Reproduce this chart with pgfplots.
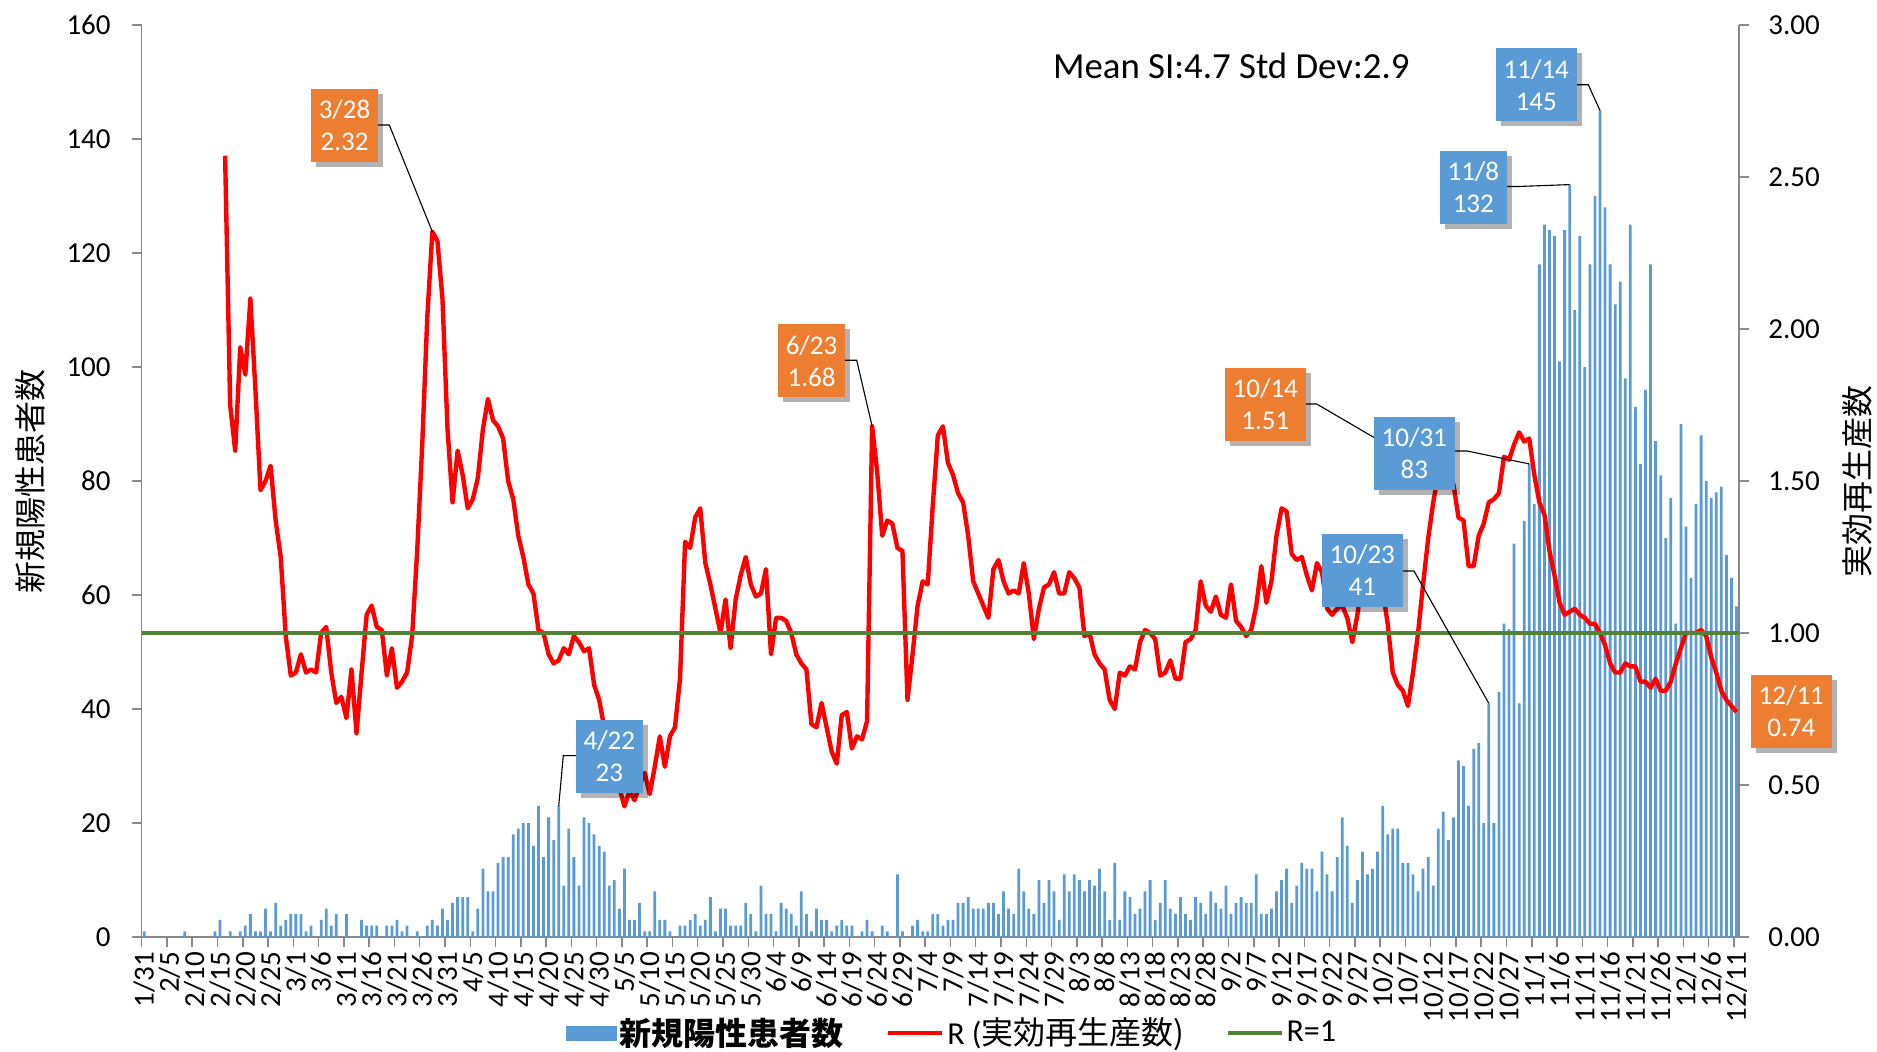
\documentclass[border=0pt]{standalone}
\usepackage{pgfplots}
\pgfplotsset{compat=1.18}
\usepackage{fontspec}
\setmainfont{Carlito}
\newfontfamily\cjk{Noto Sans CJK JP}
\usetikzlibrary{shadows}
\definecolor{barblue}{HTML}{5B9BD5}
\definecolor{boxorange}{HTML}{ED7D31}
\definecolor{rgreen}{HTML}{548235}
\definecolor{axisgrey}{HTML}{898989}
\begin{document}
\begin{tikzpicture}
\path[use as bounding box] (0,0) rectangle (938.5pt,525.5pt);
\pgfplotsset{
  common/.style={
    at={(70.85pt,57pt)}, anchor=south west, scale only axis,
    width=798.65pt, height=456pt, xmin=-0.5, xmax=315.5, ymin=0,
    axis line style={axisgrey, line width=0.75pt},
    major tick style={axisgrey, line width=0.75pt},
    tick align=outside, major tick length=5pt,
    /pgf/number format/assume math mode=true,
    tick label style={font=\fontsize{14.5pt}{17pt}\selectfont, inner sep=0pt},
  }
}
\begin{axis}[common, ymax=160,
  axis x line*=bottom, axis y line*=left,
  ytick={0,20,...,160},
  yticklabel style={anchor=east},
  yticklabel shift=10.35pt,
  xtick={-0.5,4.5,...,314.5}, xticklabels={},
  extra x ticks={0,5,...,315},
  extra x tick labels={1/31,2/5,2/10,2/15,2/20,2/25,3/1,3/6,3/11,3/16,3/21,3/26,3/31,4/5,4/10,4/15,4/20,4/25,4/30,5/5,5/10,5/15,5/20,5/25,5/30,6/4,6/9,6/14,6/19,6/24,6/29,7/4,7/9,7/14,7/19,7/24,7/29,8/3,8/8,8/13,8/18,8/23,8/28,9/2,9/7,9/12,9/17,9/22,9/27,10/2,10/7,10/12,10/17,10/22,10/27,11/1,11/6,11/11,11/16,11/21,11/26,12/1,12/6,12/11},
  extra x tick style={major tick length=0pt},
  xticklabel style={rotate=90, anchor=east},
  xticklabel shift=7.35pt,
  every axis y label/.style={at={(axis description cs:-0.0699,0.5)}, anchor=center, rotate=90, font=\fontsize{16pt}{19pt}\selectfont},
  ylabel={\cjk 新規陽性患者数},
]
\addplot[ybar, bar width=0.55, fill=barblue, draw=none] coordinates {
(0,1)(1,0)(2,0)(3,0)(4,0)(5,0)(6,0)(7,0)(8,1)(9,0)
(10,0)(11,0)(12,0)(13,0)(14,1)(15,3)(16,0)(17,1)(18,0)(19,1)
(20,2)(21,4)(22,1)(23,1)(24,5)(25,1)(26,6)(27,2)(28,3)(29,4)
(30,4)(31,4)(32,1)(33,2)(34,0)(35,3)(36,5)(37,2)(38,4)(39,0)
(40,4)(41,0)(42,0)(43,3)(44,2)(45,2)(46,2)(47,0)(48,2)(49,2)
(50,3)(51,1)(52,2)(53,0)(54,1)(55,0)(56,2)(57,3)(58,2)(59,5)
(60,3)(61,6)(62,7)(63,7)(64,7)(65,1)(66,5)(67,12)(68,8)(69,8)
(70,13)(71,14)(72,14)(73,18)(74,19)(75,20)(76,20)(77,16)(78,23)(79,14)
(80,21)(81,17)(82,23)(83,9)(84,19)(85,14)(86,9)(87,21)(88,20)(89,18)
(90,16)(91,15)(92,9)(93,10)(94,5)(95,12)(96,3)(97,3)(98,6)(99,1)
(100,1)(101,8)(102,3)(103,3)(104,1)(105,0)(106,2)(107,2)(108,3)(109,4)
(110,2)(111,3)(112,7)(113,1)(114,5)(115,5)(116,2)(117,2)(118,2)(119,6)
(120,4)(121,1)(122,9)(123,4)(124,4)(125,1)(126,6)(127,5)(128,4)(129,2)
(130,8)(131,4)(132,1)(133,5)(134,3)(135,3)(136,1)(137,2)(138,3)(139,2)
(140,2)(141,0)(142,1)(143,3)(144,1)(145,0)(146,2)(147,1)(148,0)(149,11)
(150,1)(151,0)(152,2)(153,3)(154,1)(155,1)(156,4)(157,4)(158,2)(159,3)
(160,3)(161,6)(162,6)(163,7)(164,5)(165,5)(166,5)(167,6)(168,6)(169,4)
(170,8)(171,5)(172,4)(173,12)(174,8)(175,5)(176,4)(177,10)(178,6)(179,10)
(180,8)(181,3)(182,11)(183,8)(184,11)(185,10)(186,8)(187,10)(188,9)(189,12)
(190,8)(191,3)(192,13)(193,3)(194,8)(195,7)(196,4)(197,5)(198,8)(199,10)
(200,3)(201,6)(202,10)(203,5)(204,4)(205,7)(206,4)(207,3)(208,7)(209,6)
(210,4)(211,8)(212,6)(213,5)(214,9)(215,4)(216,6)(217,7)(218,6)(219,6)
(220,11)(221,4)(222,4)(223,5)(224,8)(225,10)(226,12)(227,6)(228,9)(229,13)
(230,12)(231,12)(232,8)(233,15)(234,11)(235,8)(236,14)(237,21)(238,16)(239,6)
(240,10)(241,15)(242,11)(243,12)(244,15)(245,23)(246,18)(247,19)(248,19)(249,13)
(250,13)(251,11)(252,8)(253,12)(254,14)(255,9)(256,19)(257,22)(258,17)(259,21)
(260,31)(261,30)(262,23)(263,33)(264,34)(265,20)(266,41)(267,20)(268,43)(269,55)
(270,54)(271,69)(272,41)(273,73)(274,83)(275,76)(276,118)(277,125)(278,124)(279,123)
(280,101)(281,124)(282,132)(283,110)(284,123)(285,100)(286,118)(287,130)(288,145)(289,128)
(290,118)(291,111)(292,115)(293,98)(294,125)(295,93)(296,83)(297,96)(298,118)(299,87)
(300,81)(301,70)(302,77)(303,55)(304,90)(305,72)(306,63)(307,76)(308,88)(309,80)
(310,77)(311,78)(312,79)(313,67)(314,63)(315,58)
};
\coordinate (b422) at (axis cs:82,23);
\coordinate (b1023) at (axis cs:266,41);
\coordinate (b1031) at (axis cs:274,83);
\coordinate (b1108) at (axis cs:282,132);
\coordinate (b1114) at (axis cs:288,145);
\end{axis}
\begin{axis}[common, ymax=3,
  axis y line*=right, axis x line=none,
  ytick={0,0.5,1,1.5,2,2.5,3},
  yticklabel style={anchor=west, /pgf/number format/.cd, fixed, fixed zerofill, precision=2},
  yticklabel shift=9.5pt,
  every axis y label/.style={at={(axis description cs:1.0742,0.5)}, anchor=center, rotate=90, font=\fontsize{16pt}{19pt}\selectfont},
  ylabel={\cjk 実効再生産数},
  legend style={at={(axis description cs:0.5075,-0.10526)}, anchor=center, draw=none, fill=none,
    font=\fontsize{16pt}{19pt}\selectfont, /tikz/every even column/.append style={column sep=19.5pt},
    nodes={inner sep=1.5pt}},
  legend columns=-1,
  legend image code/.code={\draw[#1] (0pt,0pt) -- (27pt,0pt);},
]
\addlegendimage{legend image code/.code={\fill[barblue] (0pt,-3.5pt) rectangle (25.25pt,3.5pt);}}
\addlegendentry{\cjk\bfseries 新規陽性患者数}
\addplot[red, line width=2.2pt, line join=round] coordinates {
(16,2.57)(17,1.75)(18,1.60)(19,1.94)(20,1.85)(21,2.10)(22,1.80)(23,1.47)(24,1.50)(25,1.55)
(26,1.37)(27,1.25)(28,0.99)(29,0.86)(30,0.87)(31,0.93)(32,0.87)(33,0.88)(34,0.87)(35,1.00)
(36,1.02)(37,0.87)(38,0.77)(39,0.79)(40,0.72)(41,0.88)(42,0.67)(43,0.87)(44,1.06)(45,1.09)
(46,1.02)(47,1.01)(48,0.86)(49,0.95)(50,0.82)(51,0.84)(52,0.87)(53,0.99)(54,1.27)(55,1.62)
(56,2.04)(57,2.32)(58,2.29)(59,2.10)(60,1.67)(61,1.43)(62,1.60)(63,1.52)(64,1.41)(65,1.44)
(66,1.51)(67,1.67)(68,1.77)(69,1.70)(70,1.68)(71,1.64)(72,1.50)(73,1.44)(74,1.32)(75,1.25)
(76,1.16)(77,1.13)(78,1.01)(79,1.00)(80,0.93)(81,0.90)(82,0.91)(83,0.95)(84,0.93)(85,0.99)
(86,0.97)(87,0.94)(88,0.95)(89,0.83)(90,0.78)(91,0.69)(92,0.58)(93,0.51)(94,0.49)(95,0.43)
(96,0.48)(97,0.45)(98,0.50)(99,0.54)(100,0.47)(101,0.56)(102,0.66)(103,0.56)(104,0.66)(105,0.69)
(106,0.85)(107,1.30)(108,1.28)(109,1.38)(110,1.41)(111,1.23)(112,1.16)(113,1.08)(114,1.00)(115,1.11)
(116,0.95)(117,1.11)(118,1.19)(119,1.25)(120,1.16)(121,1.12)(122,1.13)(123,1.21)(124,0.93)(125,1.05)
(126,1.05)(127,1.04)(128,1.00)(129,0.93)(130,0.90)(131,0.88)(132,0.70)(133,0.69)(134,0.77)(135,0.69)
(136,0.61)(137,0.57)(138,0.73)(139,0.74)(140,0.62)(141,0.66)(142,0.65)(143,0.71)(144,1.68)(145,1.53)
(146,1.32)(147,1.37)(148,1.36)(149,1.28)(150,1.27)(151,0.78)(152,0.93)(153,1.09)(154,1.17)(155,1.16)
(156,1.42)(157,1.65)(158,1.68)(159,1.56)(160,1.52)(161,1.46)(162,1.43)(163,1.32)(164,1.17)(165,1.13)
(166,1.09)(167,1.05)(168,1.21)(169,1.24)(170,1.17)(171,1.13)(172,1.14)(173,1.13)(174,1.23)(175,1.13)
(176,0.98)(177,1.08)(178,1.15)(179,1.16)(180,1.20)(181,1.13)(182,1.13)(183,1.20)(184,1.18)(185,1.15)
(186,0.99)(187,1.00)(188,0.93)(189,0.90)(190,0.88)(191,0.78)(192,0.75)(193,0.87)(194,0.86)(195,0.89)
(196,0.88)(197,0.97)(198,1.01)(199,1.00)(200,0.98)(201,0.86)(202,0.87)(203,0.91)(204,0.85)(205,0.85)
(206,0.97)(207,0.98)(208,1.01)(209,1.17)(210,1.09)(211,1.07)(212,1.12)(213,1.06)(214,1.05)(215,1.16)
(216,1.04)(217,1.02)(218,0.99)(219,1.01)(220,1.09)(221,1.22)(222,1.10)(223,1.17)(224,1.32)(225,1.41)
(226,1.40)(227,1.26)(228,1.24)(229,1.25)(230,1.19)(231,1.14)(232,1.23)(233,1.20)(234,1.08)(235,1.06)
(236,1.08)(237,1.09)(238,1.05)(239,0.97)(240,1.06)(241,1.18)(242,1.26)(243,1.28)(244,1.24)(245,1.14)
(246,1.03)(247,0.87)(248,0.83)(249,0.81)(250,0.76)(251,0.87)(252,1.00)(253,1.16)(254,1.31)(255,1.43)
(256,1.52)(257,1.51)(258,1.50)(259,1.49)(260,1.38)(261,1.37)(262,1.22)(263,1.22)(264,1.32)(265,1.36)
(266,1.43)(267,1.44)(268,1.46)(269,1.58)(270,1.57)(271,1.62)(272,1.66)(273,1.63)(274,1.64)(275,1.52)
(276,1.43)(277,1.39)(278,1.27)(279,1.19)(280,1.10)(281,1.06)(282,1.07)(283,1.08)(284,1.06)(285,1.05)
(286,1.03)(287,1.03)(288,1.00)(289,0.96)(290,0.90)(291,0.87)(292,0.87)(293,0.90)(294,0.89)(295,0.89)
(296,0.84)(297,0.84)(298,0.82)(299,0.85)(300,0.81)(301,0.81)(302,0.84)(303,0.90)(304,0.95)(305,1.00)
(306,1.00)(307,1.00)(308,1.01)(309,0.99)(310,0.92)(311,0.87)(312,0.81)(313,0.78)(314,0.76)(315,0.74)
};
\addlegendentry{R (\cjk 実効再生産数)}
\addplot[rgreen, line width=1.6pt] coordinates {(-0.5,1) (315.5,1)};
\addlegendentry{R=1}
\coordinate (p328) at (axis cs:57,2.32);
\coordinate (p623) at (axis cs:144,1.68);
\coordinate (p1014) at (axis cs:257,1.51);
\end{axis}
\begin{scope}[x=0.5pt, y=-0.5pt, shift={(0pt,525.5pt)},
  box/.style={text=white, align=center, inner sep=0pt, minimum height=36.5pt,
    font=\fontsize{13.5pt}{16pt}\selectfont,
    drop shadow={shadow xshift=2.5pt, shadow yshift=-2.5pt, opacity=0.3, fill=black}},
  lead/.style={black, line width=0.55pt}]
\node[anchor=base, font=\fontsize{18.4pt}{22pt}\selectfont] at (1231.3,78.3) {Mean SI:4.7 Std Dev:2.9};
\draw[lead] (377.7,125) -- (389.3,125) -- (p328);
\draw[lead] (576,755.6) -- (563.3,755.6) -- (b422);
\draw[lead] (845,360.3) -- (856.7,360.3) -- (p623);
\draw[lead] (1305.7,404) -- (1316.7,404) -- (p1014);
\draw[lead] (1454.7,451) -- (1467,451) -- (b1031);
\draw[lead] (1402.7,571) -- (1414,571) -- (b1023);
\draw[lead] (1506.7,186.5) -- (1518,186.5) -- (b1108);
\draw[lead] (1576.7,84.8) -- (1588.3,84.8) -- (b1114);
\node[box, fill=boxorange, minimum width=33.5pt] at (344.5,125.5) {3/28\\2.32};
\node[box, fill=barblue, minimum width=33.5pt] at (609.3,756) {4/22\\23};
\node[box, fill=boxorange, minimum width=33.5pt] at (811.5,361) {6/23\\1.68};
\node[box, fill=boxorange, minimum width=40.5pt] at (1265.3,404.5) {10/14\\1.51};
\node[box, fill=barblue, minimum width=40.5pt] at (1414.3,453) {10/31\\83};
\node[box, fill=barblue, minimum width=40.5pt] at (1362.3,570.5) {10/23\\41};
\node[box, fill=barblue, minimum width=33.5pt] at (1473.3,187.5) {11/8\\132};
\node[box, fill=barblue, minimum width=40.5pt] at (1536.3,85) {11/14\\145};
\node[box, fill=boxorange, minimum width=40.5pt] at (1791.3,711.5) {12/11\\0.74};
\end{scope}
\end{tikzpicture}
\end{document}
